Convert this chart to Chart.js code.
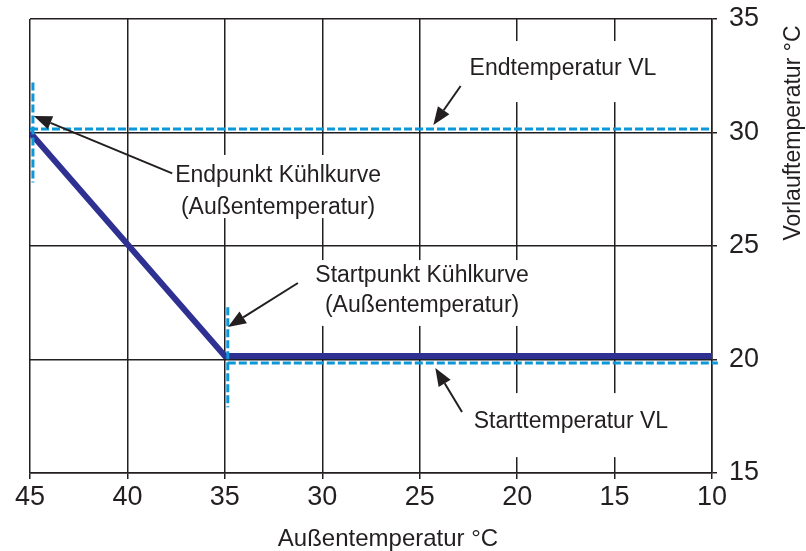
<!DOCTYPE html>
<html lang="de">
<head>
<meta charset="utf-8">
<title>Kühlkurve</title>
<script src="https://cdn.jsdelivr.net/npm/chart.js@4.4.1/dist/chart.umd.min.js"></script>
<style>
  html, body { margin: 0; padding: 0; background: #fff; }
  canvas { display: block; }
</style>
</head>
<body>
<canvas id="chart" width="806" height="551"></canvas>
<script>
// === DATA ===
const X_TICKS = [45, 40, 35, 30, 25, 20, 15, 10];
const Y_TICKS = [15, 20, 25, 30, 35];

// Kühlkurve (Außentemperatur -> Vorlauftemperatur)
const curveX = [45, 35, 10];
const curveY = [30, 20.15, 20.15];

// gestrichelte Hilfslinien
const endTempX   = [45, 10];
const endTempY   = [30.15, 30.15];
const startTempX = [34.85, 9.7];
const startTempY = [19.85, 19.85];
const endMarkX   = [44.85, 44.85];
const endMarkY   = [32.2, 27.8];
const startMarkX = [34.85, 34.85];
const startMarkY = [22.3, 17.9];

// Beschriftungen
const noteTexts = [
  ['Endtemperatur VL'],
  ['Endpunkt Kühlkurve', '(Außentemperatur)'],
  ['Startpunkt Kühlkurve', '(Außentemperatur)'],
  ['Starttemperatur VL']
];
const X_TITLE = 'Außentemperatur °C';
const Y_TITLE = 'Vorlauftemperatur °C';

// === STYLE ===
const INK   = '#231f20';
const NAVY  = '#2e3192';
const SKY   = '#0b97d8';
const FONT  = '"Liberation Sans", Arial, Helvetica, sans-serif';

// Lage der Notizen in Achsenwerten (x = Außentemp., y = Vorlauftemp.)
const notePlaces = [
  { cx: 17.65, base: [32.53],        box: [23.2, 34.03, 12.05, 31.34], arrow: [22.9, 32.05, 24.3, 30.33] },
  { cx: 32.27, base: [27.82, 26.41], box: [37.4, 29.01, 27.14, 26.23], arrow: [37.7, 28.2, 44.8, 30.73] },
  { cx: 24.88, base: [23.41, 22.09], box: [31.14, 24.38, 18.83, 21.48], arrow: [31.25, 23.37, 34.84, 21.43] },
  { cx: 17.24, base: [16.98],        box: [23.0, 18.52, 11.39, 15.7],  arrow: [22.83, 17.69, 24.2, 19.63] }
];

function pts(xs, ys){ return xs.map((x, i) => ({ x, y: ys[i] })); }

function dashed(xs, ys){
  return {
    data: pts(xs, ys),
    borderColor: SKY,
    borderWidth: 3,
    borderDash: [8, 3],
    pointRadius: 0,
    fill: false,
    clip: false
  };
}

function drawArrow(ctx, x1, y1, x2, y2){
  const a = Math.atan2(y2 - y1, x2 - x1);
  const L = 18, W = 7;
  const bx = x2 - Math.cos(a) * L, by = y2 - Math.sin(a) * L;
  ctx.beginPath();
  ctx.moveTo(x1, y1);
  ctx.lineTo(bx, by);
  ctx.stroke();
  ctx.beginPath();
  ctx.moveTo(x2, y2);
  ctx.lineTo(bx + Math.sin(a) * W, by - Math.cos(a) * W);
  ctx.lineTo(bx - Math.sin(a) * W, by + Math.cos(a) * W);
  ctx.closePath();
  ctx.fill();
}

// weiße Felder + Texte (über dem Gitter, unter den Linien)
const notesPlugin = {
  id: 'notes',
  beforeDatasetsDraw(chart){
    const { ctx, scales: { x, y } } = chart;
    ctx.save();
    notePlaces.forEach((n, i) => {
      const [x1, y1, x2, y2] = n.box;
      const px1 = x.getPixelForValue(x1), py1 = y.getPixelForValue(y1);
      const px2 = x.getPixelForValue(x2), py2 = y.getPixelForValue(y2);
      ctx.fillStyle = '#fff';
      ctx.fillRect(px1, py1, px2 - px1, py2 - py1);
      ctx.fillStyle = INK;
      ctx.font = '23px ' + FONT;
      ctx.textAlign = 'center';
      ctx.textBaseline = 'alphabetic';
      noteTexts[i].forEach((t, k) => {
        ctx.fillText(t, x.getPixelForValue(n.cx), y.getPixelForValue(n.base[k]));
      });
    });
    ctx.restore();
  },
  afterDatasetsDraw(chart){
    const { ctx, scales: { x, y }, chartArea } = chart;
    ctx.save();
    ctx.strokeStyle = INK;
    ctx.fillStyle = INK;
    ctx.lineWidth = 2;
    notePlaces.forEach(n => {
      const [ax, ay, bx, by] = n.arrow;
      drawArrow(ctx, x.getPixelForValue(ax), y.getPixelForValue(ay),
                     x.getPixelForValue(bx), y.getPixelForValue(by));
    });

    // Achsentitel
    ctx.fillStyle = INK;
    ctx.textBaseline = 'alphabetic';
    ctx.textAlign = 'center';
    ctx.font = '24px ' + FONT;
    ctx.fillText(X_TITLE, chartArea.left + 358, chartArea.bottom + 73);

    ctx.translate(chartArea.right + 88, chartArea.top + 114);
    ctx.rotate(-Math.PI / 2);
    ctx.font = '23px ' + FONT;
    ctx.fillText(Y_TITLE, 0, 0);
    ctx.restore();
  }
};

new Chart(document.getElementById('chart').getContext('2d'), {
  type: 'line',
  data: {
    datasets: [
      dashed(endMarkX, endMarkY),
      dashed(startMarkX, startMarkY),
      dashed(endTempX, endTempY),
      dashed(startTempX, startTempY),
      {
        data: pts(curveX, curveY),
        borderColor: NAVY,
        borderWidth: 6,
        pointRadius: 0,
        fill: false,
        tension: 0,
        borderJoinStyle: 'miter'
      }
    ]
  },
  options: {
    responsive: false,
    animation: false,
    layout: { padding: { left: 30, top: 19, right: 0, bottom: 0 } },
    plugins: { legend: { display: false }, tooltip: { enabled: false } },
    scales: {
      x: {
        type: 'linear',
        reverse: true,
        min: 10, max: 45,
        afterBuildTicks: s => { s.ticks = X_TICKS.map(v => ({ value: v })); },
        afterFit: s => { s.height = 78; s.paddingLeft = 0; s.paddingRight = 0; },
        ticks: { color: INK, font: { size: 27, family: FONT }, padding: 2, maxRotation: 0 },
        grid: { color: INK, lineWidth: 1.5, tickLength: 6 },
        border: { color: INK, width: 1.5 }
      },
      y: {
        type: 'linear',
        position: 'right',
        min: 15, max: 35,
        afterBuildTicks: s => { s.ticks = Y_TICKS.map(v => ({ value: v })); },
        afterFit: s => { s.width = 94; s.paddingTop = 0; s.paddingBottom = 0; },
        ticks: { color: INK, font: { size: 27, family: FONT }, padding: 12 },
        grid: { color: INK, lineWidth: 1.5, tickLength: 5 },
        border: { color: INK, width: 1.5 }
      }
    }
  },
  plugins: [notesPlugin]
});
</script>
</body>
</html>
